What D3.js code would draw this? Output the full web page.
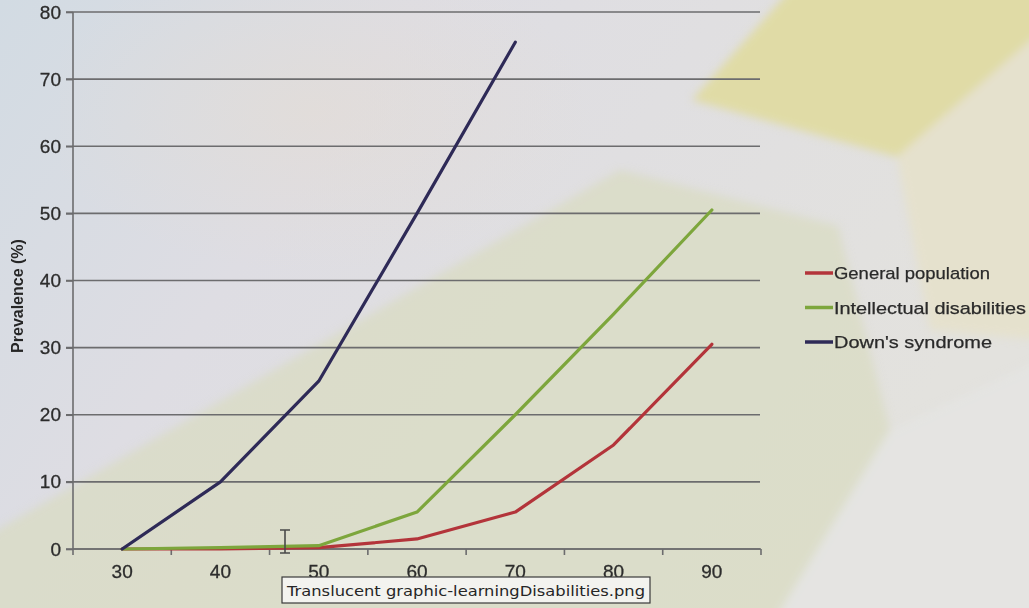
<!DOCTYPE html>
<html>
<head>
<meta charset="utf-8">
<script src="https://cdn.jsdelivr.net/npm/d3@7"></script>
<style>
  html, body { margin: 0; padding: 0; background: #dcdde0; }
  svg { display: block; }
</style>
</head>
<body>
<svg id="chart" width="1029" height="608"></svg>
<script>
// Age groups (years) on the category axis
const ages = [30, 40, 50, 60, 70, 80, 90];

// Prevalence of dementia (%) by age group
const generalPopulation      = [0, 0, 0.2, 1.5, 5.5, 15.5, 30.5];
const intellectualDisability = [0, 0.2, 0.5, 5.5, 20, 35, 50.5];
const downsSyndrome          = [0, 10, 25, 50, 75.5, null, null];

const seriesNames  = ["General population", "Intellectual disabilities", "Down's syndrome"];
const seriesColors = ["#b3343a", "#7da63c", "#2e2a57"];

const yTicks = [0, 10, 20, 30, 40, 50, 60, 70, 80];
const yLabel = "Prevalence (%)";
const fileTip = "Translucent graphic-learningDisabilities.png";

const series = [generalPopulation, intellectualDisability, downsSyndrome].map((vals, i) => ({
  name: seriesNames[i],
  color: seriesColors[i],
  points: ages.map((a, j) => ({ age: a, v: vals[j] })).filter(p => p.v !== null)
}));

const svg = d3.select("#chart");
const W = 1029, H = 608;
const plot = { left: 73, right: 761, top: 12, bottom: 549 };

// ---- soft slide background ----
const defs = svg.append("defs");
const bgGrad = defs.append("linearGradient").attr("id", "bgGrad")
  .attr("x1", "0").attr("y1", "0").attr("x2", "1").attr("y2", "0.4");
bgGrad.append("stop").attr("offset", "0").attr("stop-color", "#d2dbe3");
bgGrad.append("stop").attr("offset", "0.35").attr("stop-color", "#dedde3");
bgGrad.append("stop").attr("offset", "1").attr("stop-color", "#e3e2de");

const soft = defs.append("filter").attr("id", "soft")
  .attr("x", "-10%").attr("y", "-10%").attr("width", "120%").attr("height", "120%");
soft.append("feGaussianBlur").attr("stdDeviation", 4);

const warm = defs.append("radialGradient").attr("id", "warm")
  .attr("cx", "0.45").attr("cy", "0.35").attr("r", "0.5");
warm.append("stop").attr("offset", "0").attr("stop-color", "#e6dccf").attr("stop-opacity", 0.45);
warm.append("stop").attr("offset", "1").attr("stop-color", "#e6dccf").attr("stop-opacity", 0);

svg.append("rect").attr("width", W).attr("height", H).attr("fill", "url(#bgGrad)");
svg.append("rect").attr("x", 60).attr("y", 0).attr("width", 560).attr("height", 320).attr("fill", "url(#warm)");

const bg = svg.append("g").attr("filter", "url(#soft)");
const shape = pts => "M" + pts.map(p => p.join(",")).join("L") + "Z";
// pale green translucent panel
bg.append("path")
  .attr("d", shape([[-20, 600], [-20, 540], [620, 170], [838, 226], [890, 430], [770, 628], [-20, 628]]))
  .attr("fill", "#d9dcc0").attr("opacity", 0.7);
// warm beige band at the right
bg.append("path")
  .attr("d", shape([[897, 157], [1040, 30], [1040, 340], [930, 330]]))
  .attr("fill", "#e5e1cd");
// yellow panel at the top right
bg.append("path")
  .attr("d", shape([[692, 100], [790, -10], [1040, -10], [1040, 32], [897, 157]]))
  .attr("fill", "#e0dba6");
// light sheen at the bottom right
bg.append("path")
  .attr("d", shape([[890, 430], [1040, 360], [1040, 628], [770, 628]]))
  .attr("fill", "#e4e4e2").attr("opacity", 0.9);

// ---- scales ----
const x = d3.scaleBand().domain(ages).range([plot.left, plot.right]).padding(0);
const y = d3.scaleLinear().domain([0, 80]).range([plot.bottom, plot.top]);
const cx = a => x(a) + x.bandwidth() / 2;

const gridColor = "#6c6c6e";
const labelFont = "Liberation Sans, Arial, sans-serif";

// horizontal gridlines
svg.append("g").selectAll("line").data(yTicks).join("line")
  .attr("x1", plot.left - 7).attr("x2", 760)
  .attr("y1", d => y(d)).attr("y2", d => y(d))
  .attr("stroke", gridColor).attr("stroke-width", 1.6);

// y axis
const yAxis = svg.append("g").attr("transform", `translate(${plot.left},0)`)
  .call(d3.axisLeft(y).tickValues(yTicks).tickSize(7).tickSizeOuter(0).tickPadding(5));
yAxis.select(".domain").attr("stroke", gridColor).attr("stroke-width", 1.6)
  .attr("d", `M0,${plot.top}V${plot.bottom + 6}`);
yAxis.selectAll(".tick line").attr("stroke", gridColor).attr("stroke-width", 1.6);
yAxis.selectAll(".tick text")
  .attr("font-family", labelFont)
  .attr("font-size", 19).attr("fill", "#2c2c2c")
  .attr("stroke", "#2c2c2c").attr("stroke-width", 0.3);

// x axis: ticks sit between categories
const xAxis = svg.append("g").attr("transform", `translate(0,${plot.bottom})`);
xAxis.append("line").attr("x1", plot.left).attr("x2", plot.right)
  .attr("stroke", gridColor).attr("stroke-width", 1.6);
xAxis.selectAll("line.tk").data(ages).join("line").attr("class", "tk")
  .attr("x1", d => x(d) + x.bandwidth()).attr("x2", d => x(d) + x.bandwidth())
  .attr("y1", 0).attr("y2", 6)
  .attr("stroke", gridColor).attr("stroke-width", 1.6);
xAxis.selectAll("text").data(ages).join("text")
  .attr("x", d => cx(d)).attr("y", 29)
  .attr("text-anchor", "middle")
  .attr("font-family", labelFont)
  .attr("font-size", 19).attr("fill", "#2c2c2c")
  .attr("stroke", "#2c2c2c").attr("stroke-width", 0.3)
  .text(d => d);

// y axis title
svg.append("text")
  .attr("transform", "translate(23,296) rotate(-90)")
  .attr("text-anchor", "middle")
  .attr("font-family", labelFont)
  .attr("font-weight", "bold").attr("font-size", 16).attr("fill", "#262626")
  .text(yLabel);

// ---- series lines ----
const line = d3.line().x(d => cx(d.age)).y(d => y(d.v));
svg.append("g").selectAll("path").data(series).join("path")
  .attr("d", d => line(d.points))
  .attr("fill", "none")
  .attr("stroke", d => d.color)
  .attr("stroke-width", 3.2)
  .attr("stroke-linejoin", "round")
  .attr("stroke-linecap", "round");

// ---- legend ----
const legend = svg.append("g").attr("transform", "translate(805,273)");
const items = legend.selectAll("g").data(series).join("g")
  .attr("transform", (d, i) => `translate(0,${i * 34.5})`);
items.append("line").attr("x1", 0).attr("x2", 28)
  .attr("stroke", d => d.color).attr("stroke-width", 3.5);
items.append("text").attr("x", 29).attr("y", 6)
  .attr("font-family", labelFont)
  .attr("font-size", 17).attr("fill", "#2a2a2a")
  .attr("stroke", "#2a2a2a").attr("stroke-width", 0.25)
  .attr("textLength", (d, i) => [156, 192, 158][i]).attr("lengthAdjust", "spacingAndGlyphs")
  .text(d => d.name);

// ---- file tooltip and text cursor over the slide ----
const tip = svg.append("g").attr("transform", "translate(282,577)");
tip.append("rect").attr("width", 368).attr("height", 26)
  .attr("fill", "#f3f3ef").attr("stroke", "#3a3a3a").attr("stroke-width", 1.2);
tip.append("text").attr("x", 5).attr("y", 19)
  .attr("font-family", "DejaVu Sans, sans-serif")
  .attr("font-size", 14.5).attr("fill", "#262626")
  .attr("textLength", 358).attr("lengthAdjust", "spacingAndGlyphs")
  .text(fileTip);

svg.append("path")
  .attr("d", "M280,530H290M285,530V553M280,553H290")
  .attr("fill", "none").attr("stroke", "#4a4a4a").attr("stroke-width", 1.6);
</script>
</body>
</html>
